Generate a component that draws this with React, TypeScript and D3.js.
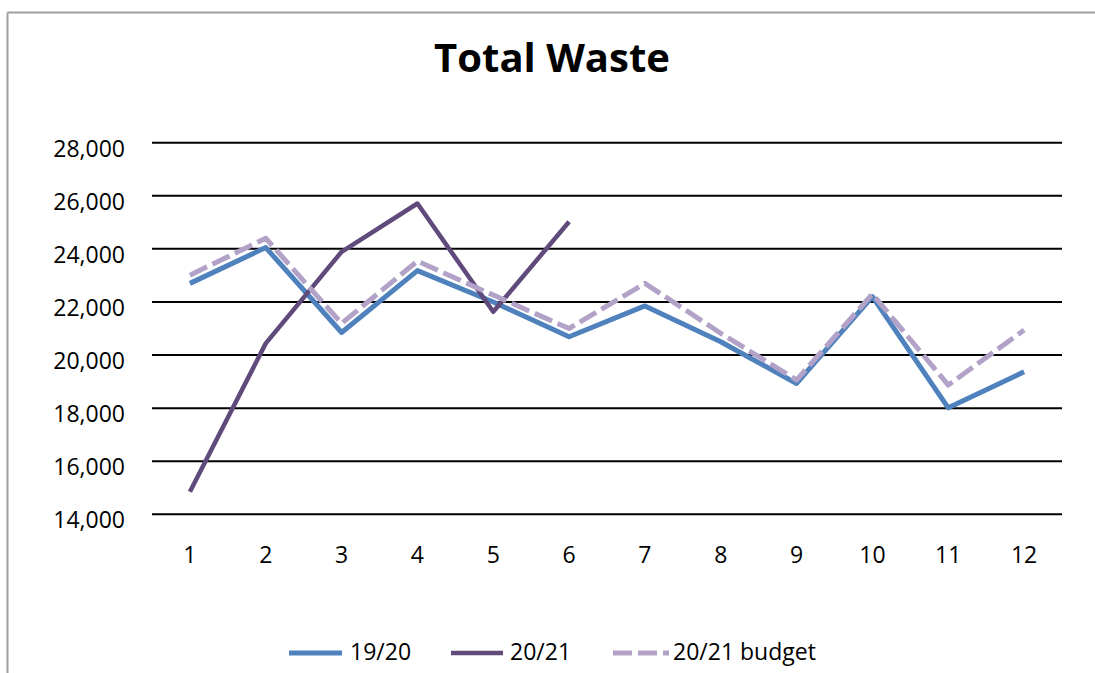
import React from "react";
import * as d3 from "d3";

const months = [1, 2, 3, 4, 5, 6, 7, 8, 9, 10, 11, 12];
const yTicks = [14000, 16000, 18000, 20000, 22000, 24000, 26000, 28000];
const series1920 = [22700, 24050, 20850, 23180, 22000, 20690, 21850, 20500, 18930, 22200, 18010, 19370];
const series2021 = [14850, 20440, 23890, 25710, 21630, 25020];
const seriesBudget = [23010, 24400, 21190, 23540, 22260, 21000, 22700, 20820, 19060, 22300, 18870, 20940];
const seriesNames = ["19/20", "20/21", "20/21 budget"];

const W = 1095;
const H = 673;
const FONT = "'Open Sans', 'Liberation Sans', sans-serif";

export default function App() {
  const x = d3.scaleBand<number>().domain(months).range([152, 1062]);
  const cx = (m: number) => (x(m) as number) + x.bandwidth() / 2;
  const y = d3.scaleLinear().domain([14000, 28000]).range([514.3, 142.7]);
  const fmt = d3.format(",");

  const line = d3
    .line<number>()
    .x((_, i) => cx(months[i]))
    .y((d) => y(d));

  const lines = [
    { name: seriesNames[0], data: series1920, color: "#4F81BD", width: 5, dash: undefined },
    { name: seriesNames[1], data: series2021, color: "#604A7B", width: 4.5, dash: undefined },
    { name: seriesNames[2], data: seriesBudget, color: "#B3A2C7", width: 5, dash: "19 6" },
  ];

  const legendItems = [
    { x1: 289, x2: 342, tx: 350 },
    { x1: 451, x2: 503, tx: 510 },
    { x1: 613, x2: 669, tx: 673 },
  ];

  return (
    <svg
      width={W}
      height={H}
      style={{ position: "absolute", left: 0, top: 0, background: "#fff" }}
      fontFamily={FONT}
    >
      <rect x={0} y={0} width={W} height={H} fill="#fff" />
      {/* chart border */}
      <line x1={7.5} y1={12.5} x2={W} y2={12.5} stroke="#a0a0a0" strokeWidth={2} />
      <line x1={7.5} y1={12.5} x2={7.5} y2={H} stroke="#a0a0a0" strokeWidth={2} />

      <text x={552} y={72} textAnchor="middle" fontSize={40} fontWeight="bold" fill="#000">
        Total Waste
      </text>

      {/* gridlines */}
      {yTicks.map((t) => (
        <g key={t}>
          <line x1={152} x2={1062} y1={y(t)} y2={y(t)} stroke="#000" strokeWidth={2} />
          <text x={125} y={y(t) + 14} textAnchor="end" fontSize={23} fill="#000">
            {fmt(t)}
          </text>
        </g>
      ))}

      {/* x labels */}
      {months.map((m) => (
        <text key={m} x={cx(m)} y={563} textAnchor="middle" fontSize={23} fill="#000">
          {m}
        </text>
      ))}

      {/* series */}
      {lines.map((s) => (
        <path
          key={s.name}
          d={line(s.data) as string}
          fill="none"
          stroke={s.color}
          strokeWidth={s.width}
          strokeDasharray={s.dash}
          strokeLinejoin="round"
        />
      ))}

      {/* legend */}
      {lines.map((s, i) => (
        <g key={s.name}>
          <line
            x1={legendItems[i].x1}
            x2={legendItems[i].x2}
            y1={653}
            y2={653}
            stroke={s.color}
            strokeWidth={s.width}
            strokeDasharray={s.dash}
          />
          <text x={legendItems[i].tx} y={660} fontSize={23} fill="#000">
            {s.name}
          </text>
        </g>
      ))}
    </svg>
  );
}
